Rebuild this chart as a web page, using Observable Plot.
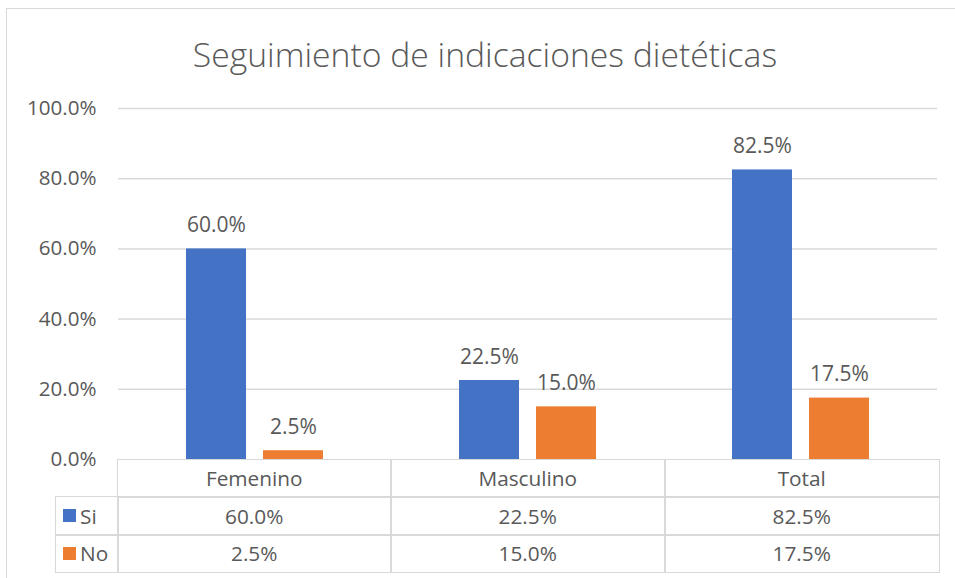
<!DOCTYPE html>
<html>
<head>
<meta charset="utf-8">
<script src="https://cdn.jsdelivr.net/npm/d3@7"></script>
<script src="https://cdn.jsdelivr.net/npm/@observablehq/plot@0.6"></script>
<style>
  html, body { margin:0; padding:0; background:#fff; }
  #chart { position:relative; width:955px; height:578px; overflow:hidden; font-family:"Open Sans", sans-serif; color:#595959; }
  #frame { position:absolute; left:6px; top:8px; width:960px; height:600px; border:1.5px solid #d9d9d9; box-sizing:border-box; }
  #title { position:absolute; left:0; width:970px; top:32px; text-align:center; font-size:33.7px; font-weight:300; line-height:44px; white-space:nowrap; }
  #plot { position:absolute; left:0; top:0; }
  .cell { position:absolute; box-sizing:border-box; border:1.5px solid #d9d9d9; display:flex; align-items:center; justify-content:center; font-size:20.8px; color:#595959; background:transparent; }
  .sw { display:inline-block; width:13px; height:13px; margin-right:4px; }
</style>
</head>
<body>
<div id="chart">
  <div id="frame"></div>
  <div id="title">Seguimiento de indicaciones dietéticas</div>
  <div id="plot"></div>
  <div id="table"></div>
</div>
<script>
const categories = ["Femenino", "Masculino", "Total"];
const seriesNames = ["Si", "No"];
const siValues = [60.0, 22.5, 82.5];
const noValues = [2.5, 15.0, 17.5];
const yTicks = [0, 20, 40, 60, 80, 100];
const colors = ["#4472C4", "#ED7D31"];

const data = [];
categories.forEach((c, i) => {
  data.push({cat: c, series: "Si", value: siValues[i]});
  data.push({cat: c, series: "No", value: noValues[i]});
});
const fmt = d => d.toFixed(1) + "%";

const chart = Plot.plot({
  width: 955,
  height: 578,
  marginTop: 108,
  marginBottom: 119,
  marginLeft: 117,
  marginRight: 17,
  style: {fontFamily: "Open Sans, sans-serif", fontSize: "21px", color: "#595959", background: "transparent", overflow: "visible"},
  fx: {domain: categories, padding: 0, axis: null, label: null},
  x: {domain: seriesNames, paddingInner: 0.218, paddingOuter: 0.866, axis: null},
  y: {domain: [0, 100], label: null},
  color: {domain: seriesNames, range: colors},
  marks: [
    Plot.gridY(yTicks.filter(t => t > 0), {stroke: "#d9d9d9", strokeOpacity: 1, strokeWidth: 1.5}),
    Plot.axisY(yTicks, {tickSize: 0, tickPadding: 22, tickFormat: fmt, fill: "#595959", fontSize: 20.6, label: null}),
    Plot.barY(data, {fx: "cat", x: "series", y: "value", fill: "series"}),
    Plot.text(data, {fx: "cat", x: "series", y: "value", text: d => fmt(d.value), lineAnchor: "bottom", dy: -17, fill: "#595959", fontSize: 21})
  ]
});
document.getElementById("plot").appendChild(chart);

// data table below the plot
const table = document.getElementById("table");
const colEdges = [117, 390, 664, 938];
const rowEdges = [459, 496, 534, 571];
const legendLeft = 55;
function cell(x0, x1, y0, y1, html) {
  const d = document.createElement("div");
  d.className = "cell";
  d.style.left = x0 + "px"; d.style.top = y0 + "px";
  d.style.width = (x1 - x0 + 1.5) + "px"; d.style.height = (y1 - y0 + 1.5) + "px";
  d.innerHTML = html;
  table.appendChild(d);
  return d;
}
categories.forEach((c, i) => cell(colEdges[i], colEdges[i + 1], rowEdges[0], rowEdges[1], c));
[siValues, noValues].forEach((vals, r) => {
  const lc = cell(legendLeft, colEdges[0], rowEdges[r + 1], rowEdges[r + 2],
    `<span class="sw" style="background:${colors[r]}"></span>${seriesNames[r]}`);
  lc.style.justifyContent = "flex-start";
  lc.style.paddingLeft = "7px";
  vals.forEach((v, i) => cell(colEdges[i], colEdges[i + 1], rowEdges[r + 1], rowEdges[r + 2], fmt(v)));
});
</script>
</body>
</html>
